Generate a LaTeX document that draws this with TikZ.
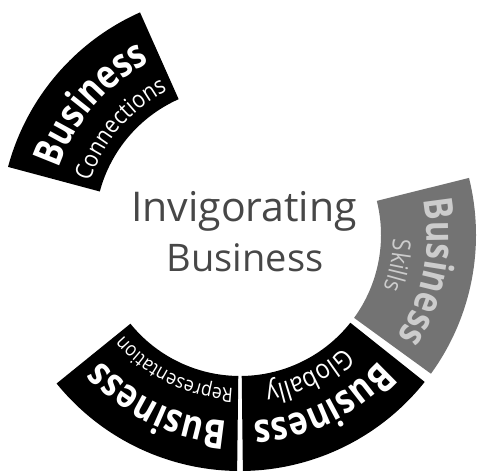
\documentclass[tikz,border=0pt]{standalone}
\usepackage{fontspec}
\setmainfont{Open Sans}
\newfontfamily\segfont[FakeStretch=0.82]{Open Sans}
\newfontfamily\subfont[FakeStretch=0.88]{Open Sans}
\usetikzlibrary{decorations.text}
\tikzset{
  segdark/.style={fill=black},
  seggrey/.style={fill=black!55},
  centertext/.style={text=black!72, anchor=base, inner sep=0pt},
}
\newcommand{\ringseg}[6]{% style, centre, start, end, rin, rout
  \fill[#1] ([shift={(#3:#6)}]#2) arc[start angle=#3, end angle=#4, radius=#6]
    -- ([shift={(#4:#5)}]#2) arc[start angle=#4, end angle=#3, radius=#5] -- cycle;}
\begin{document}
\begin{tikzpicture}[x=1pt,y=1pt]
\useasboundingbox (0,0) rectangle (479,473);
\coordinate (C) at (240,238);
\coordinate (C2) at (236,245);
% segments
\ringseg{segdark}{C2}{114}{165}{141}{236}
\ringseg{seggrey}{C}{-36}{14}{141}{236}
\ringseg{segdark}{C}{-89.3}{-38.5}{141}{236}
\ringseg{segdark}{C}{-141}{-90.7}{141}{236}
% Connections
\path[decorate, decoration={text along path, text align=center, text color=white,
  text={|\segfont\fontsize{40}{40}\selectfont\bfseries|Business}}]
  ([shift={(165:187)}]C2) arc[start angle=165, end angle=114, radius=187];
\path[decorate, decoration={text along path, text align=center, text color=white,
  text={|\subfont\fontsize{24}{24}\selectfont|Connections}}]
  ([shift={(165:153)}]C2) arc[start angle=165, end angle=114, radius=153];
% Skills
\path[decorate, decoration={text along path, text align=center, text color=white!80!black,
  text={|\segfont\fontsize{40}{40}\selectfont\bfseries|Business}}]
  ([shift={(14:187)}]C) arc[start angle=14, end angle=-36, radius=187];
\path[decorate, decoration={text along path, text align=center, text color=white!80!black,
  text={|\subfont\fontsize{25}{25}\selectfont|Skills}}]
  ([shift={(14:153)}]C) arc[start angle=14, end angle=-36, radius=153];
% Globally
\path[decorate, decoration={text along path, text align=center, text color=white,
  text={|\segfont\fontsize{40}{40}\selectfont\bfseries|Business}}]
  ([shift={(-38.5:187)}]C) arc[start angle=-38.5, end angle=-89.3, radius=187];
\path[decorate, decoration={text along path, text align=center, text color=white,
  text={|\subfont\fontsize{27}{27}\selectfont|Globally}}]
  ([shift={(-38.5:153)}]C) arc[start angle=-38.5, end angle=-89.3, radius=153];
% Representation
\path[decorate, decoration={text along path, text align=center, text color=white,
  text={|\segfont\fontsize{40}{40}\selectfont\bfseries|Business}}]
  ([shift={(-90.7:187)}]C) arc[start angle=-90.7, end angle=-141, radius=187];
\path[decorate, decoration={text along path, text align=center, text color=white,
  text={|\subfont\fontsize{20}{20}\selectfont|Representation}}]
  ([shift={(-90.7:154)}]C) arc[start angle=-90.7, end angle=-141, radius=154];
% centre text
\node[centertext, font=\fontsize{41}{41}\selectfont] (t1) at (244,251) {Invigorating};
\node[centertext, font=\fontsize{38}{38}\selectfont] (t2) at (245,201) {Business};
\end{tikzpicture}
\end{document}
